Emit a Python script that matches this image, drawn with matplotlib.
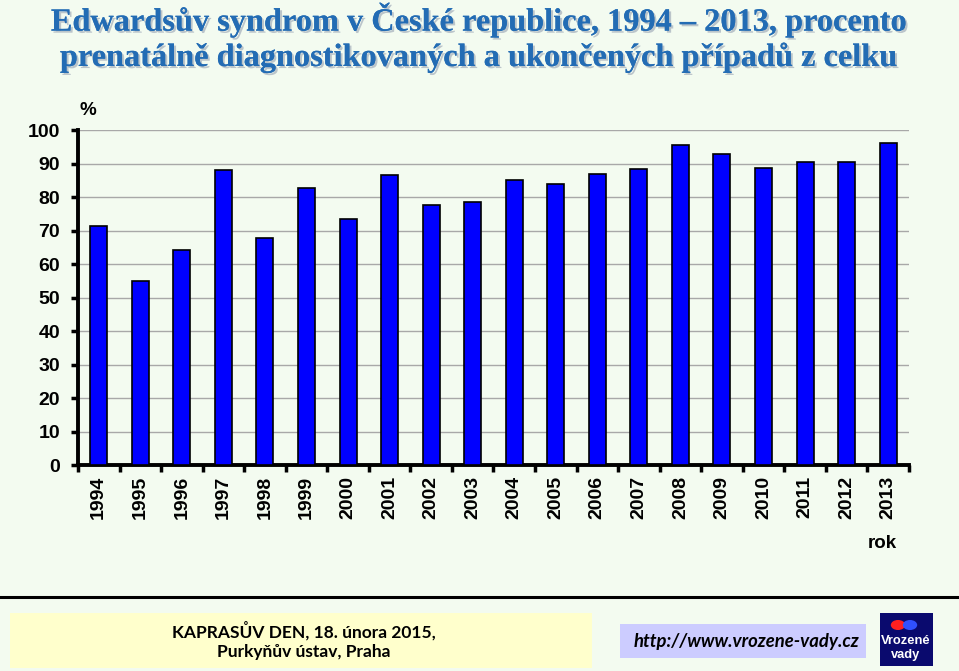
import matplotlib
matplotlib.use("Agg")
import matplotlib.pyplot as plt
import matplotlib.patheffects as pe
from matplotlib.patches import Rectangle, Circle

# data
years = ['1994', '1995', '1996', '1997', '1998', '1999', '2000', '2001', '2002', '2003',
         '2004', '2005', '2006', '2007', '2008', '2009', '2010', '2011', '2012', '2013']
percent = [71.5, 55.0, 64.3, 88.2, 67.9, 82.6, 73.5, 86.7, 77.7, 78.5,
           85.0, 84.0, 86.8, 88.3, 95.5, 93.0, 88.8, 90.6, 90.6, 96.3]
y_ticks = [0, 10, 20, 30, 40, 50, 60, 70, 80, 90, 100]

bg = '#f3fbf0'
fig = plt.figure(figsize=(9.59, 6.71), dpi=100, facecolor=bg)

# title
title_fx = [pe.withSimplePatchShadow(offset=(1.5, -1.5), shadow_rgbFace='#a4aebb', alpha=0.7), pe.Normal()]
fig.text(0.5, 0.970, 'Edwardsův syndrom v České republice, 1994 – 2013, procento',
         ha='center', va='center', fontsize=23.3, fontweight='bold', family='Liberation Serif',
         color='#236cb4', path_effects=title_fx)
fig.text(0.5, 0.914, 'prenatálně diagnostikovaných a ukončených případů z celku',
         ha='center', va='center', fontsize=23.3, fontweight='bold', family='Liberation Serif',
         color='#236cb4', path_effects=title_fx)

ax = fig.add_axes([0.0813, 0.307, 0.8665, 0.499])
ax.set_facecolor(bg)
x = list(range(len(years)))
ax.bar(x, percent, width=0.41, color='#0000ff', edgecolor='black', linewidth=1.2, zorder=3)

ax.set_xlim(-0.5, len(years) - 0.5)
ax.set_ylim(0, 100)
ax.set_yticks(y_ticks)
ax.set_yticklabels([str(t) for t in y_ticks], fontsize=14, fontweight='bold', family='Liberation Sans')
ax.yaxis.grid(True, color='#a8a8a8', linewidth=1.0, zorder=0)

# year labels centred on the bars, tick marks between categories
ax.set_xticks(x)
ax.set_xticklabels(years, rotation=90, fontsize=14, fontweight='bold', family='Liberation Sans')
ax.tick_params(axis='x', which='major', length=0, pad=8)
ax.set_xticks([i - 0.5 for i in range(len(years) + 1)], minor=True)
ax.tick_params(axis='x', which='minor', length=5, width=2.5, direction='out')
ax.tick_params(axis='y', length=5, width=2.5, direction='out', pad=8)

for side in ['top', 'right']:
    ax.spines[side].set_visible(False)
ax.spines['left'].set_linewidth(2.8)
ax.spines['bottom'].set_linewidth(2.8)

fig.text(0.092, 0.836, '%', ha='center', va='center', fontsize=13.5, fontweight='bold', family='Liberation Sans')
fig.text(0.920, 0.190, 'rok', ha='center', va='center', fontsize=13.5, fontweight='bold', family='Liberation Sans')

# separator line and footer
fig.add_artist(plt.Line2D([0, 1], [1 - 597 / 671, 1 - 597 / 671], color='black', linewidth=2.2))

fig.add_artist(Rectangle((10 / 959, 1 - 668 / 671), 582 / 959, 55 / 671, facecolor='#ffffcc', edgecolor='none'))
fig.text(304 / 959, 1 - 631 / 671, 'KAPRASŮV DEN, 18. února 2015,', ha='center', va='center',
         fontsize=12.5, fontweight='bold', family='Lato')
fig.text(304 / 959, 1 - 652 / 671, 'Purkyňův ústav, Praha', ha='center', va='center',
         fontsize=12.5, fontweight='bold', family='Lato')

fig.add_artist(Rectangle((620 / 959, 1 - 658 / 671), 246 / 959, 34 / 671, facecolor='#ccccff', edgecolor='none'))
fig.text(746 / 959, 1 - 641 / 671, 'http://www.vrozene-vady.cz', ha='center', va='center',
         fontsize=13.3, fontweight='bold', style='italic', family='Lato')

# small logo
fig.add_artist(Rectangle((880 / 959, 1 - 666 / 671), 53 / 959, 53 / 671, facecolor='#0a0a6e', edgecolor='none'))
fig.add_artist(Circle((898 / 959, 1 - 625 / 671), 0.0075, facecolor='#ff2020', edgecolor='none', transform=fig.transFigure))
fig.add_artist(Circle((910 / 959, 1 - 625 / 671), 0.0075, facecolor='#3050ff', edgecolor='none', transform=fig.transFigure))
fig.text(906 / 959, 1 - 641 / 671, 'Vrozené', ha='center', va='center', fontsize=9.3,
         fontweight='bold', color='white', family='Liberation Sans')
fig.text(906 / 959, 1 - 655 / 671, 'vady', ha='center', va='center', fontsize=9.3,
         fontweight='bold', color='white', family='Liberation Sans')

fig.savefig('out.png', dpi=100, facecolor=bg)
